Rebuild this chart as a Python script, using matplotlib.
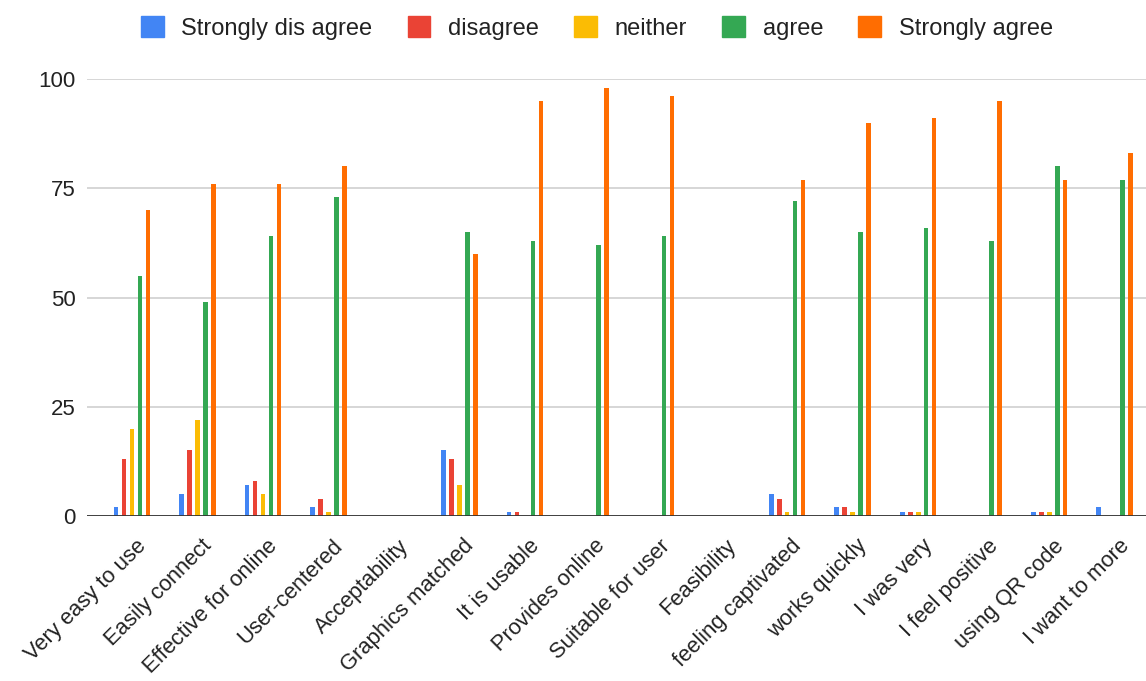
import matplotlib
matplotlib.use("Agg")
import matplotlib.pyplot as plt
import matplotlib.transforms as mtrans
from matplotlib.patches import Patch
import numpy as np

plt.rcParams['font.family'] = ['Liberation Sans', 'DejaVu Sans']

categories = [
    "Very easy to use", "Easily connect", "Effective for online", "User-centered",
    "Acceptability", "Graphics matched", "It is usable", "Provides online",
    "Suitable for user", "Feasibility", "feeling captivated", "works quickly",
    "I was very", "I feel positive", "using QR code", "I want to more",
]
series_names = ["Strongly dis agree", "disagree", "neither", "agree", "Strongly agree"]
strongly_disagree = [2, 5, 7, 2, 0, 15, 1, 0, 0, 0, 5, 2, 1, 0, 1, 2]
disagree = [13, 15, 8, 4, 0, 13, 1, 0, 0, 0, 4, 2, 1, 0, 1, 0]
neither = [20, 22, 5, 1, 0, 7, 0, 0, 0, 0, 1, 1, 1, 0, 1, 0]
agree = [55, 49, 64, 73, 0, 65, 63, 62, 64, 0, 72, 65, 66, 63, 80, 77]
strongly_agree = [70, 76, 76, 80, 0, 60, 95, 98, 96, 0, 77, 90, 91, 95, 77, 83]
y_ticks = [0, 25, 50, 75, 100]

colors = ["#4285F4", "#EA4335", "#FBBC04", "#34A853", "#FF6D01"]
series = [strongly_disagree, disagree, neither, agree, strongly_agree]

W, H = 1146, 681
fig = plt.figure(figsize=(W / 100, H / 100), dpi=100)
ax = fig.add_axes([87 / W, 165 / H, (W - 87) / W, 437 / H])

x = np.arange(len(categories))
step = 0.122
bar_w = 0.075
for i, (vals, c) in enumerate(zip(series, colors)):
    ax.bar(x + (i - 2) * step, vals, width=bar_w, color=c, zorder=3, linewidth=0)

ax.set_xlim(-0.687, 15.48)
ax.set_ylim(0, 100)
ax.set_yticks(y_ticks)
ax.set_yticklabels([str(v) for v in y_ticks], fontsize=16, color="#222222")
ax.yaxis.grid(True, color="#cccccc", linewidth=1.1, zorder=0)
ax.set_axisbelow(True)
ax.axhline(0, color="#333333", linewidth=2, zorder=4)
for s in ax.spines.values():
    s.set_visible(False)
ax.tick_params(axis="both", length=0)
ax.tick_params(axis="y", pad=8)
ax.tick_params(axis="x", pad=14)

ax.set_xticks(x)
ax.set_xticklabels(categories, rotation=45, ha="right", rotation_mode="anchor",
                   fontsize=15.8, color="#222222")
# nudge labels so their ends sit just right of each group centre
offset = mtrans.ScaledTranslation(4 / 100, 0, fig.dpi_scale_trans)
for lbl in ax.get_xticklabels():
    lbl.set_transform(lbl.get_transform() + offset)

handles = [Patch(facecolor=c, edgecolor=c, label=n) for n, c in zip(series_names, colors)]
fig.legend(handles=handles, loc="center", bbox_to_anchor=(597 / W, 1 - 28 / H),
           ncol=5, frameon=False, fontsize=17, handlelength=0.95, handleheight=0.95,
           handletextpad=0.75, columnspacing=1.5, labelcolor="#222222")

fig.savefig("out.png", dpi=100)
